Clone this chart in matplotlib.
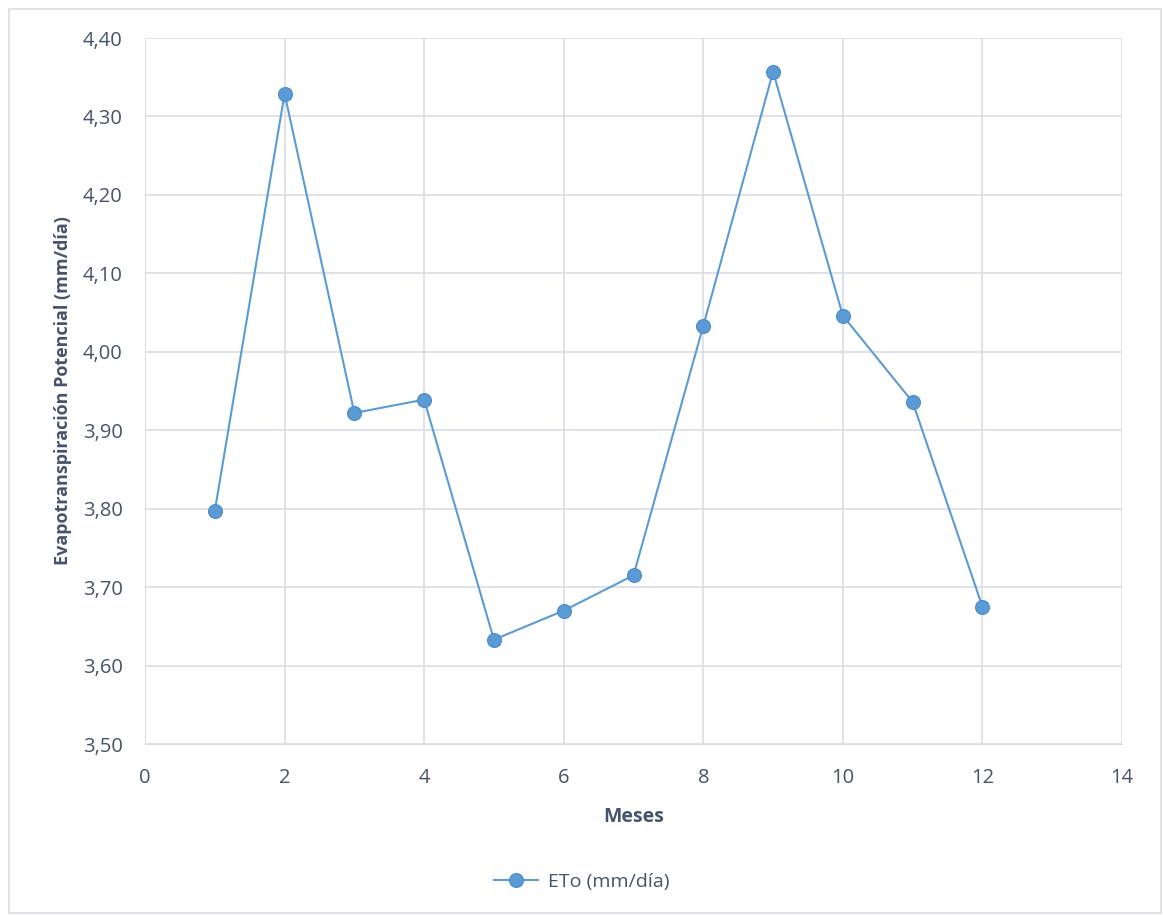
import matplotlib
matplotlib.use('Agg')
import matplotlib.pyplot as plt
from matplotlib.patches import Rectangle

# monthly ETo values
meses = [1, 2, 3, 4, 5, 6, 7, 8, 9, 10, 11, 12]
eto = [3.797, 4.329, 3.922, 3.939, 3.633, 3.670, 3.715, 4.033, 4.357, 4.046, 3.936, 3.675]
xticks = [0, 2, 4, 6, 8, 10, 12, 14]
yticks = [3.50, 3.60, 3.70, 3.80, 3.90, 4.00, 4.10, 4.20, 4.30, 4.40]

txt = '#44546A'
grid = '#D9DDE4'
blue = '#5B9BD5'
plt.rcParams['font.family'] = ['Open Sans', 'DejaVu Sans']

fig = plt.figure(figsize=(11.63, 9.15), dpi=100)
ax = fig.add_axes([145/1163, 1 - 744/915, (1122-145)/1163, (744-38)/915])

ax.plot(meses, eto, color=blue, lw=1.5, marker='o', ms=10,
        markerfacecolor=blue, markeredgecolor='#4A8AC8', markeredgewidth=0.8,
        label='ETo (mm/día)', zorder=3)

ax.set_xlim(0, 14)
ax.set_ylim(3.5, 4.4)
ax.set_xticks(xticks)
ax.set_yticks(yticks)
ax.set_yticklabels([f'{v:.2f}'.replace('.', ',') for v in yticks])
ax.grid(True, color=grid, lw=1.2)
ax.set_axisbelow(True)
for s in ax.spines.values():
    s.set_visible(False)
ax.spines['left'].set_visible(True)
ax.spines['left'].set_color(grid)
ax.spines['bottom'].set_visible(True)
ax.spines['bottom'].set_color(grid)
ax.tick_params(length=0, colors=txt, labelsize=14.5)
ax.tick_params(axis='y', pad=16)
ax.tick_params(axis='x', pad=17)

ax.set_xlabel('Meses', color=txt, fontsize=14, fontweight='bold', labelpad=14)
ax.set_ylabel('Evapotranspiración Potencial (mm/día)', color=txt, fontsize=13,
              fontweight='bold', labelpad=8)

fig.legend(loc='center', bbox_to_anchor=(0.5, 1 - 882/915), frameon=False,
           fontsize=14, labelcolor=txt, handlelength=2.3, handletextpad=0.5)

fig.patches.append(Rectangle((9/1163, 2/915), 1152/1163, 904/915, transform=fig.transFigure,
                             fill=False, edgecolor=grid, lw=1.2))

fig.savefig('out.png', dpi=100)
